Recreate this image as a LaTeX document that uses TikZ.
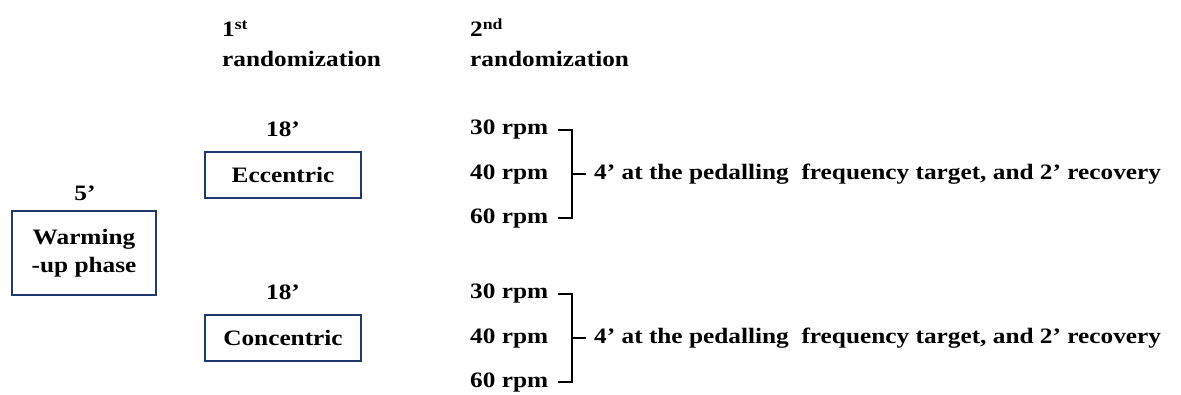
\documentclass[tikz,border=0pt]{standalone}
\usepackage{fontspec}
\setmainfont{Liberation Serif}[FakeStretch=1.15]
\usetikzlibrary{positioning}
\definecolor{boxBlue}{RGB}{31,56,112}
\begin{document}
\begin{tikzpicture}
[x=1pt,y=-1pt,
  plainText/.style={inner sep=0pt,font=\fontsize{22}{28}\selectfont\bfseries},%
  phaseBox/.style={shape=rectangle,draw=boxBlue,line width=1.6pt,minimum width=156pt,minimum height=46pt,inner sep=0pt,align=center,font=\fontsize{22}{28}\selectfont\bfseries},%
  bracketLine/.style={-,line width=1.4pt}]
\useasboundingbox (0,0) rectangle (1181,395);
%% column headings
\foreach \nodename/\num/\sup/\x in {one/1/st/222, two/2/nd/470}
{
  \node (head\nodename) [plainText,anchor=base west] at (\x,37) {\num\textsuperscript{\sup}};
  \node (rand\nodename) [plainText,anchor=base west] at (\x,67) {randomization};
}
%% warming-up
\node (warm) [phaseBox,minimum width=144pt,minimum height=84pt] at (84,253) {Warming\\-up phase};
\node (warmtime) [plainText] at (85,193) {5’};
%% exercise modes
\foreach \nodename/\txt/\y in {ecc/Eccentric/175, con/Concentric/338}
{
  \node (\nodename) [phaseBox] at (283,\y) {\txt};
  \node (\nodename time) [plainText] at (283,\y-46) {18’};
}
%% pedalling frequencies and brackets
\foreach \g/\y in {a/130, b/294}
{
  \foreach \r/\dy in {30/0, 40/45, 60/89}
  {
    \node (rpm\g\r) [plainText,anchor=west] at (470,\y+\dy) {\r\ rpm};
  }
  \coordinate (top\g) at (558,\y);
  \coordinate (bot\g) at (558,\y+88);
  \coordinate (mid\g) at (572,\y+44);
  \node (note\g) [plainText,anchor=west] at (594,\y+44) {4’ at the pedalling\ \ frequency target, and 2’ recovery};
  \draw[bracketLine] (top\g) -| (mid\g) |- (bot\g);
  \draw[bracketLine,shorten >=8pt] (mid\g) -- (note\g.west);
}
\end{tikzpicture}
\end{document}
